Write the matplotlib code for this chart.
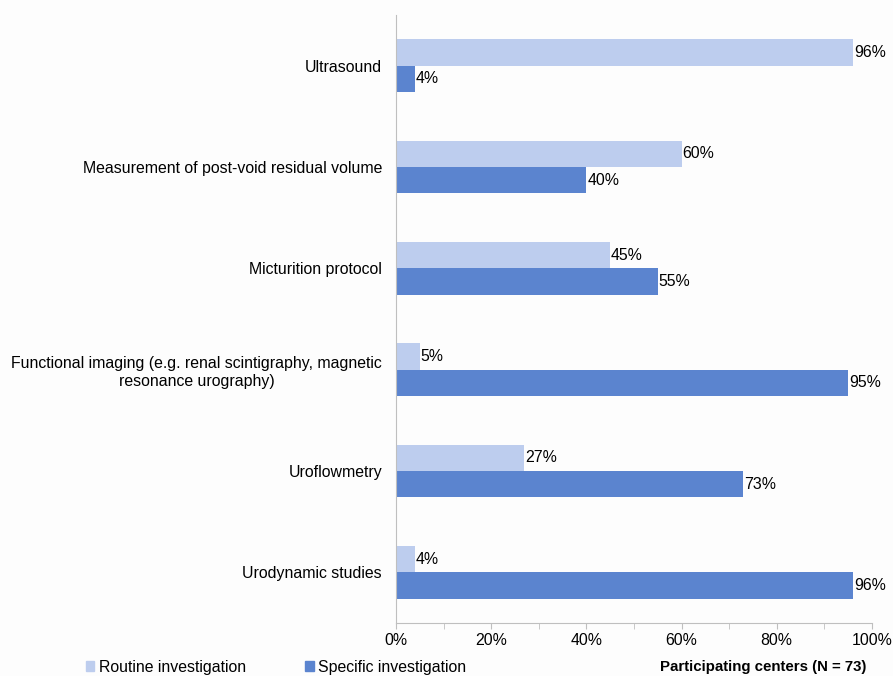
import numpy as np
import matplotlib
matplotlib.use('Agg')
import matplotlib.pyplot as plt
from matplotlib.patches import Patch
from matplotlib.ticker import MultipleLocator, PercentFormatter

plt.rcParams['font.family'] = ['Liberation Sans', 'DejaVu Sans']

categories = ['Ultrasound',
              'Measurement of post-void residual volume',
              'Micturition protocol',
              'Functional imaging (e.g. renal scintigraphy, magnetic\nresonance urography)',
              'Uroflowmetry',
              'Urodynamic studies']
routine = [96, 60, 45, 5, 27, 4]
specific = [4, 40, 55, 95, 73, 96]

c_routine = '#bdcdee'
c_specific = '#5b84cf'
fs = 11.4

fig = plt.figure(figsize=(8.93, 6.76), dpi=100)
fig.patch.set_facecolor('#fdfdfd')
ax = fig.add_axes([0.4434, 0.0784, 0.533, 0.8994])
ax.set_facecolor('#fdfdfd')

y = np.arange(len(categories))
h = 0.26
ax.barh(y - h / 2, routine, height=h, color=c_routine, label='Routine investigation')
ax.barh(y + h / 2, specific, height=h, color=c_specific, label='Specific investigation')

for i in range(len(categories)):
    ax.text(routine[i] + 0.2, y[i] - h / 2, '%d%%' % routine[i], va='center', ha='left', fontsize=fs)
    ax.text(specific[i] + 0.2, y[i] + h / 2, '%d%%' % specific[i], va='center', ha='left', fontsize=fs)

ax.set_ylim(len(categories) - 0.5, -0.5)
ax.set_xlim(0, 100)
ax.set_yticks(y)
ax.set_yticklabels(categories, fontsize=fs, multialignment='center')
ax.tick_params(axis='y', length=0, pad=10)
ax.xaxis.set_major_locator(MultipleLocator(20))
ax.xaxis.set_minor_locator(MultipleLocator(10))
ax.xaxis.set_major_formatter(PercentFormatter(decimals=0))
ax.tick_params(axis='x', which='both', length=4, color='#bfbfbf', labelsize=fs, pad=3)

for s in ['top', 'right']:
    ax.spines[s].set_visible(False)
for s in ['left', 'bottom']:
    ax.spines[s].set_color('#bfbfbf')

handles = [Patch(color=c_routine), Patch(color=c_specific)]
fig.legend(handles, ['Routine investigation', 'Specific investigation'],
           loc='center left', bbox_to_anchor=(0.096, 0.013), ncol=2, frameon=False,
           fontsize=fs, handlelength=0.55, handleheight=0.55, handletextpad=0.3,
           columnspacing=3.7, borderpad=0, borderaxespad=0)
fig.text(0.97, 0.013, 'Participating centers (N = 73)', ha='right', va='center',
         fontsize=10.8, fontweight='bold')

fig.savefig('out.png', dpi=100, facecolor=fig.get_facecolor())
